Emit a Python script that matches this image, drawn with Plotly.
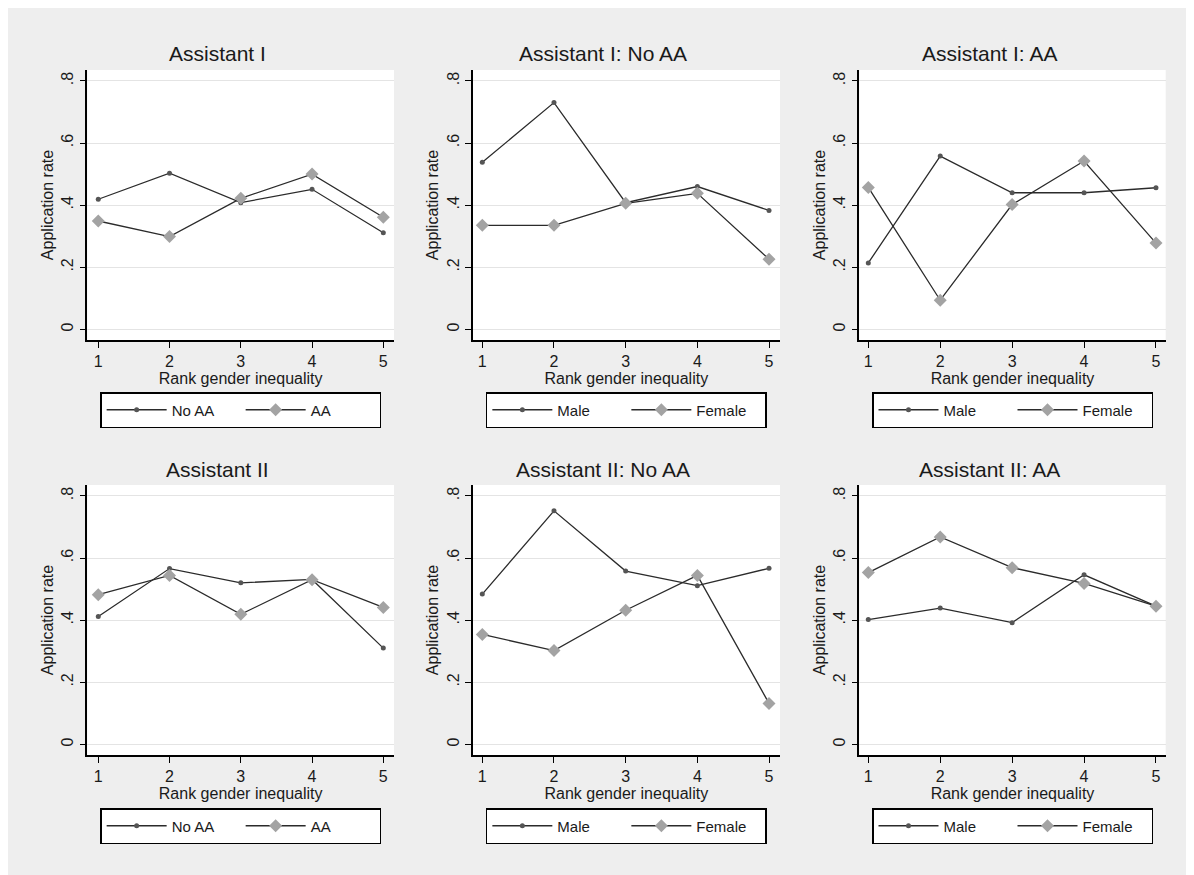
import plotly.graph_objects as go

# ---------------- data ----------------
ranks = [1, 2, 3, 4, 5]
tick_vals_y = [0, 0.2, 0.4, 0.6, 0.8]
tick_text_y = ["0", ".2", ".4", ".6", ".8"]

titles = ["Assistant I", "Assistant I: No AA", "Assistant I: AA",
          "Assistant II", "Assistant II: No AA", "Assistant II: AA"]

names_aa = ["No AA", "AA"]
names_sex = ["Male", "Female"]

# Assistant I
a1_noaa = [0.419, 0.503, 0.408, 0.451, 0.311]
a1_aa = [0.349, 0.299, 0.422, 0.500, 0.361]
a1n_male = [0.538, 0.730, 0.408, 0.460, 0.383]
a1n_female = [0.335, 0.335, 0.406, 0.438, 0.226]
a1a_male = [0.214, 0.558, 0.440, 0.440, 0.456]
a1a_female = [0.457, 0.094, 0.402, 0.542, 0.278]
# Assistant II
a2_noaa = [0.412, 0.566, 0.520, 0.531, 0.310]
a2_aa = [0.482, 0.544, 0.419, 0.530, 0.441]
a2n_male = [0.484, 0.752, 0.558, 0.511, 0.567]
a2n_female = [0.354, 0.302, 0.432, 0.544, 0.132]
a2a_male = [0.402, 0.439, 0.392, 0.546, 0.445]
a2a_female = [0.553, 0.668, 0.569, 0.518, 0.445]

panels = [
    (a1_noaa, a1_aa, names_aa),
    (a1n_male, a1n_female, names_sex),
    (a1a_male, a1a_female, names_sex),
    (a2_noaa, a2_aa, names_aa),
    (a2n_male, a2n_female, names_sex),
    (a2a_male, a2a_female, names_sex),
]

# ---------------- layout geometry (screen pixels) ----------------
OFF = 8  # page body margin
W, H = 1194 - OFF, 875 - OFF
col_px = [(87.3, 394.0), (472.7, 780.0), (859.3, 1165.7)]
col_xrange = [[0.846, 5.150], [0.866, 5.153], [0.875, 5.135]]
row_px = [(70.0, 340.0), (485.0, 755.0)]
y_range = [-0.034, 0.835]
title_py = [53, 470]
legend_top_py = [392, 808]

FONT = "Liberation Sans, Arial, sans-serif"
TXT = "#1a1a1a"
LINE_COL = "#2b2b2b"

def fx(px):
    return (px - OFF) / W

def fy(py):
    return 1 - (py - OFF) / H

fig = go.Figure()

for i, (s1, s2, nm) in enumerate(panels):
    r, c = divmod(i, 3)
    k = i + 1
    xa = "x" if k == 1 else f"x{k}"
    ya = "y" if k == 1 else f"y{k}"
    leg = "legend" if k == 1 else f"legend{k}"
    fig.add_trace(go.Scatter(
        x=ranks, y=s1, name=nm[0], mode="lines+markers",
        line=dict(color=LINE_COL, width=1.3),
        marker=dict(symbol="circle", size=5, color="#555555"),
        xaxis=xa, yaxis=ya, legend=leg, showlegend=True))
    fig.add_trace(go.Scatter(
        x=ranks, y=s2, name=nm[1], mode="lines+markers",
        line=dict(color=LINE_COL, width=1.3),
        marker=dict(symbol="diamond", size=10, color="#a3a3a3"),
        xaxis=xa, yaxis=ya, legend=leg, showlegend=True))

    x0, x1 = col_px[c]
    y0, y1 = row_px[r]
    axis_common = dict(showline=True, linecolor="black", linewidth=1.5,
                       ticks="outside", ticklen=6, tickwidth=1.2,
                       tickcolor="black", zeroline=False,
                       tickfont=dict(family=FONT, size=16, color=TXT))
    xkey = "xaxis" if k == 1 else f"xaxis{k}"
    ykey = "yaxis" if k == 1 else f"yaxis{k}"
    fig.layout[xkey] = dict(
        domain=[fx(x0), fx(x1)], range=col_xrange[c], anchor=ya,
        tickvals=ranks, showgrid=False,
        title=dict(text="Rank gender inequality", standoff=0,
                   font=dict(family=FONT, size=16, color=TXT)),
        **axis_common)
    fig.layout[ykey] = dict(
        domain=[fy(y1), fy(y0)], range=y_range, anchor=xa,
        tickvals=tick_vals_y, ticktext=tick_text_y, tickangle=-90,
        showgrid=True, gridcolor="#e4e4e4", gridwidth=1.2,
        title=dict(text="Application rate", standoff=2,
                   font=dict(family=FONT, size=16, color=TXT)),
        **axis_common)

    # panel title
    fig.add_annotation(text=titles[i], x=fx((x0 + x1) / 2 - 23), y=fy(title_py[r]),
                       xref="paper", yref="paper", showarrow=False,
                       xanchor="center", yanchor="middle",
                       font=dict(family=FONT, size=21, color=TXT))

    # legend for this panel
    fig.layout[leg] = dict(
        orientation="h", x=fx((x0 + x1) / 2), y=fy(legend_top_py[r]),
        xanchor="center", yanchor="top", xref="paper", yref="paper",
        bgcolor="white", bordercolor="black", borderwidth=1.5,
        entrywidth=64, entrywidthmode="pixels", itemwidth=60,
        font=dict(family=FONT, size=15, color=TXT),
        traceorder="normal")

fig.update_layout(
    width=W, height=H,
    margin=dict(l=0, r=0, t=0, b=0),
    paper_bgcolor="#eeeeee", plot_bgcolor="white",
    font=dict(family=FONT, color=TXT),
)

fig.write_html("out.html")
